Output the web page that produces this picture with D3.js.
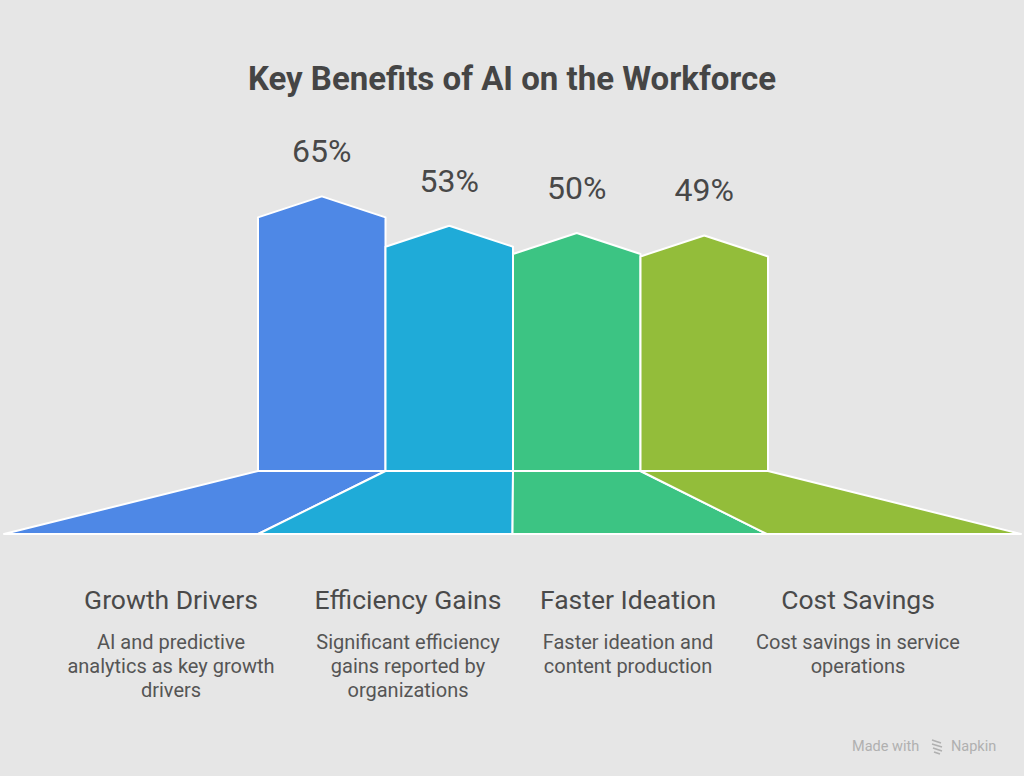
<!DOCTYPE html>
<html>
<head>
<meta charset="utf-8">
<script src="https://cdn.jsdelivr.net/npm/d3@7"></script>
<style>
  html, body { margin: 0; padding: 0; background: #e6e6e6; }
  svg { display: block; font-family: Roboto, "Noto Sans", sans-serif; }
</style>
</head>
<body>
<svg id="chart" width="1024" height="776"></svg>
<script>
// chart data
const categories = ['Growth Drivers', 'Efficiency Gains', 'Faster Ideation', 'Cost Savings'];
const percents = [65, 53, 50, 49];
const descriptions = [
  ['AI and predictive', 'analytics as key growth', 'drivers'],
  ['Significant efficiency', 'gains reported by', 'organizations'],
  ['Faster ideation and', 'content production'],
  ['Cost savings in service', 'operations']
];
const colors = ['#4e88e6', '#1fabd8', '#3cc483', '#93bd3a'];

const width = 1024;
const baseTop = 471;
const baseBottom = 534;
const roof = 21;
// small nudges of the text columns
const labelNudge = [0, 8, -1, 0];

const svg = d3.select('#chart');

// title
svg.append('text')
  .attr('x', width / 2)
  .attr('y', 90)
  .attr('text-anchor', 'middle')
  .attr('font-size', '33px')
  .attr('font-weight', 'bold')
  .attr('fill', '#454545')
  .text('Key Benefits of AI on the Workforce');

// scales
const xTop = d3.scaleBand().domain(categories).range([258, 768]);
const xBottom = d3.scaleBand().domain(categories).range([4, 1021]);
const yScale = d3.scaleLinear().domain([0, 100]).range([376, 132]);
const xLabel = d3.scalePoint().domain(categories).range([171, 858]);
const labelX = (d, i) => xLabel(d) + labelNudge[i];

// bottom trapezoids
svg.selectAll('path.base')
  .data(categories)
  .join('path')
  .attr('class', 'base')
  .attr('d', d => {
    const t0 = xTop(d), t1 = t0 + xTop.bandwidth();
    const b0 = xBottom(d), b1 = b0 + xBottom.bandwidth();
    return `M${t0},${baseTop}L${t1},${baseTop}L${b1},${baseBottom}L${b0},${baseBottom}Z`;
  })
  .attr('fill', (d, i) => colors[i])
  .attr('stroke', '#fff')
  .attr('stroke-width', 2)
  .attr('stroke-linejoin', 'round');

// bars with pointed roof
svg.selectAll('path.bar')
  .data(categories)
  .join('path')
  .attr('class', 'bar')
  .attr('d', (d, i) => {
    const x0 = xTop(d), x1 = x0 + xTop.bandwidth(), xm = (x0 + x1) / 2;
    const y = yScale(percents[i]);
    return `M${x0},${baseTop}L${x0},${y}L${xm},${y - roof}L${x1},${y}L${x1},${baseTop}Z`;
  })
  .attr('fill', (d, i) => colors[i])
  .attr('stroke', '#fff')
  .attr('stroke-width', 2)
  .attr('stroke-linejoin', 'round');

// value labels
svg.selectAll('text.value')
  .data(categories)
  .join('text')
  .attr('class', 'value')
  .attr('x', d => xTop(d) + xTop.bandwidth() / 2)
  .attr('y', (d, i) => yScale(percents[i]) - roof - 34)
  .attr('text-anchor', 'middle')
  .attr('font-size', '32px')
  .attr('fill', '#484848')
  .text((d, i) => percents[i] + '%');

// category titles
svg.selectAll('text.cat')
  .data(categories)
  .join('text')
  .attr('class', 'cat')
  .attr('x', labelX)
  .attr('y', 609)
  .attr('text-anchor', 'middle')
  .attr('font-size', '26.5px')
  .attr('fill', '#4a4a4a')
  .text(d => d);

// descriptions
const desc = svg.selectAll('text.desc')
  .data(categories)
  .join('text')
  .attr('class', 'desc')
  .attr('text-anchor', 'middle')
  .attr('font-size', '20px')
  .attr('fill', '#555');

desc.selectAll('tspan')
  .data((d, i) => descriptions[i].map(line => ({ line, x: labelX(d, i) })))
  .join('tspan')
  .attr('x', l => l.x)
  .attr('y', (l, j) => 649 + j * 24)
  .text(l => l.line);

// footer
const foot = svg.append('g').attr('fill', '#b0b0b0');
foot.append('text')
  .attr('x', 852)
  .attr('y', 751)
  .attr('font-size', '14.5px')
  .text('Made with');
foot.append('path')
  .attr('d', 'M932,740l9,3M932,744l10,3M933,748l9,3M934,752l6,2')
  .attr('stroke', '#b0b0b0')
  .attr('stroke-width', 1.7)
  .attr('fill', 'none');
foot.append('text')
  .attr('x', 951)
  .attr('y', 751)
  .attr('font-size', '14.5px')
  .text('Napkin');
</script>
</body>
</html>
